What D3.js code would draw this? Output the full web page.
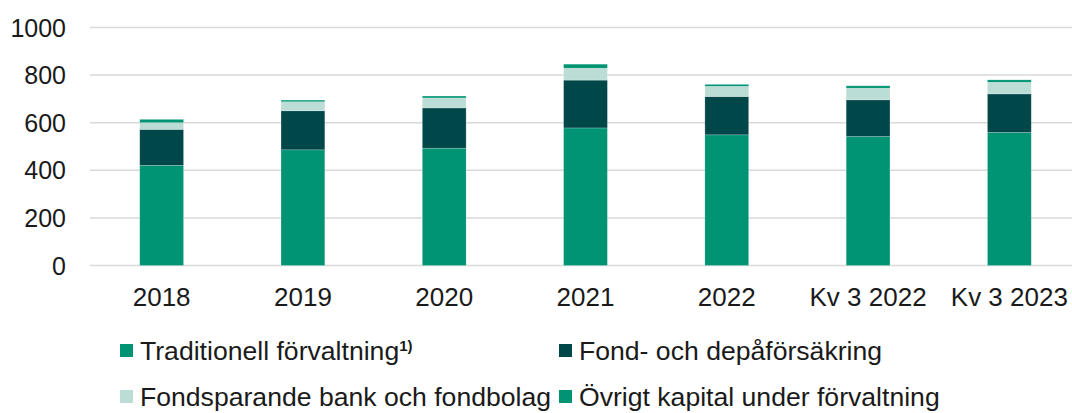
<!DOCTYPE html>
<html><head><meta charset="utf-8">
<script src="https://cdn.jsdelivr.net/npm/d3@7"></script>
<style>
body{margin:0;background:#fff;}
svg{display:block;font-family:"Liberation Sans",Arial,sans-serif;}
</style></head>
<body>
<svg id="chart" width="1072" height="413"></svg>
<script>
const categories = ["2018","2019","2020","2021","2022","Kv 3 2022","Kv 3 2023"];
const traditionell = [421, 486, 493, 578, 549, 542, 559];
const fondDepa = [151, 164, 169, 201, 161, 154, 162];
const fondsparande = [28, 38, 42, 50, 43, 49, 49];
const ovrigt = [14, 7, 8, 17, 8, 10, 10];
const yTicks = [0, 200, 400, 600, 800, 1000];
const seriesNames = ["Traditionell förvaltning", "Fond- och depåförsäkring", "Fondsparande bank och fondbolag", "Övrigt kapital under förvaltning"];
const colors = ["#009474", "#00474a", "#bcddd5", "#009474"];

const svg = d3.select("#chart");
const x = d3.scaleBand().domain(categories).range([91, 1080]).paddingInner(0.69).paddingOuter(0.345);
const y = d3.scaleLinear().domain([0, 1000]).range([265.5, 27.5]);

// gridlines
svg.append("g").selectAll("line").data(yTicks).join("line")
  .attr("x1", 90).attr("x2", 1072)
  .attr("y1", d => y(d)).attr("y2", d => y(d))
  .attr("stroke", "#d9d9d9").attr("stroke-width", 1.5);

// y tick labels
svg.append("g").selectAll("text").data(yTicks).join("text")
  .attr("x", 66).attr("y", d => y(d)).attr("dy", "0.36em")
  .attr("text-anchor", "end").attr("font-size", 25).attr("fill", "#1a1a1a")
  .text(d => d);

// stacked data
const rows = categories.map((c, i) => ({cat: c, s0: traditionell[i], s1: fondDepa[i], s2: fondsparande[i], s3: ovrigt[i]}));
const stack = d3.stack().keys(["s0","s1","s2","s3"])(rows);
svg.append("g").selectAll("g").data(stack).join("g")
  .attr("fill", (d, i) => colors[i])
  .selectAll("rect").data(d => d).join("rect")
  .attr("x", d => x(d.data.cat)).attr("width", x.bandwidth())
  .attr("y", d => y(d[1])).attr("height", d => y(d[0]) - y(d[1]))
  .attr("stroke", "rgba(255,255,255,0.35)").attr("stroke-width", 0.6);

// x labels
svg.append("g").selectAll("text").data(categories).join("text")
  .attr("x", d => x(d) + x.bandwidth()/2).attr("y", 306)
  .attr("text-anchor", "middle").attr("font-size", 26).attr("fill", "#1a1a1a")
  .text(d => d);

// legend
const legendPos = [[120, 350], [559, 350], [120, 396], [559, 396]];
const lg = svg.append("g");
seriesNames.forEach((name, i) => {
  const [lx, ly] = legendPos[i];
  lg.append("rect").attr("x", lx).attr("y", ly - 6).attr("width", 13).attr("height", 13).attr("fill", colors[i]);
  const t = lg.append("text").attr("x", lx + 20).attr("y", ly).attr("dy", "0.36em")
    .attr("font-size", 26.6).attr("fill", "#1a1a1a").text(name);
  if (i === 0) {
    t.append("tspan").attr("font-size", 15).attr("font-weight", "bold").attr("dy", "-0.6em").text("1)");
  }
});
</script>
</body></html>
